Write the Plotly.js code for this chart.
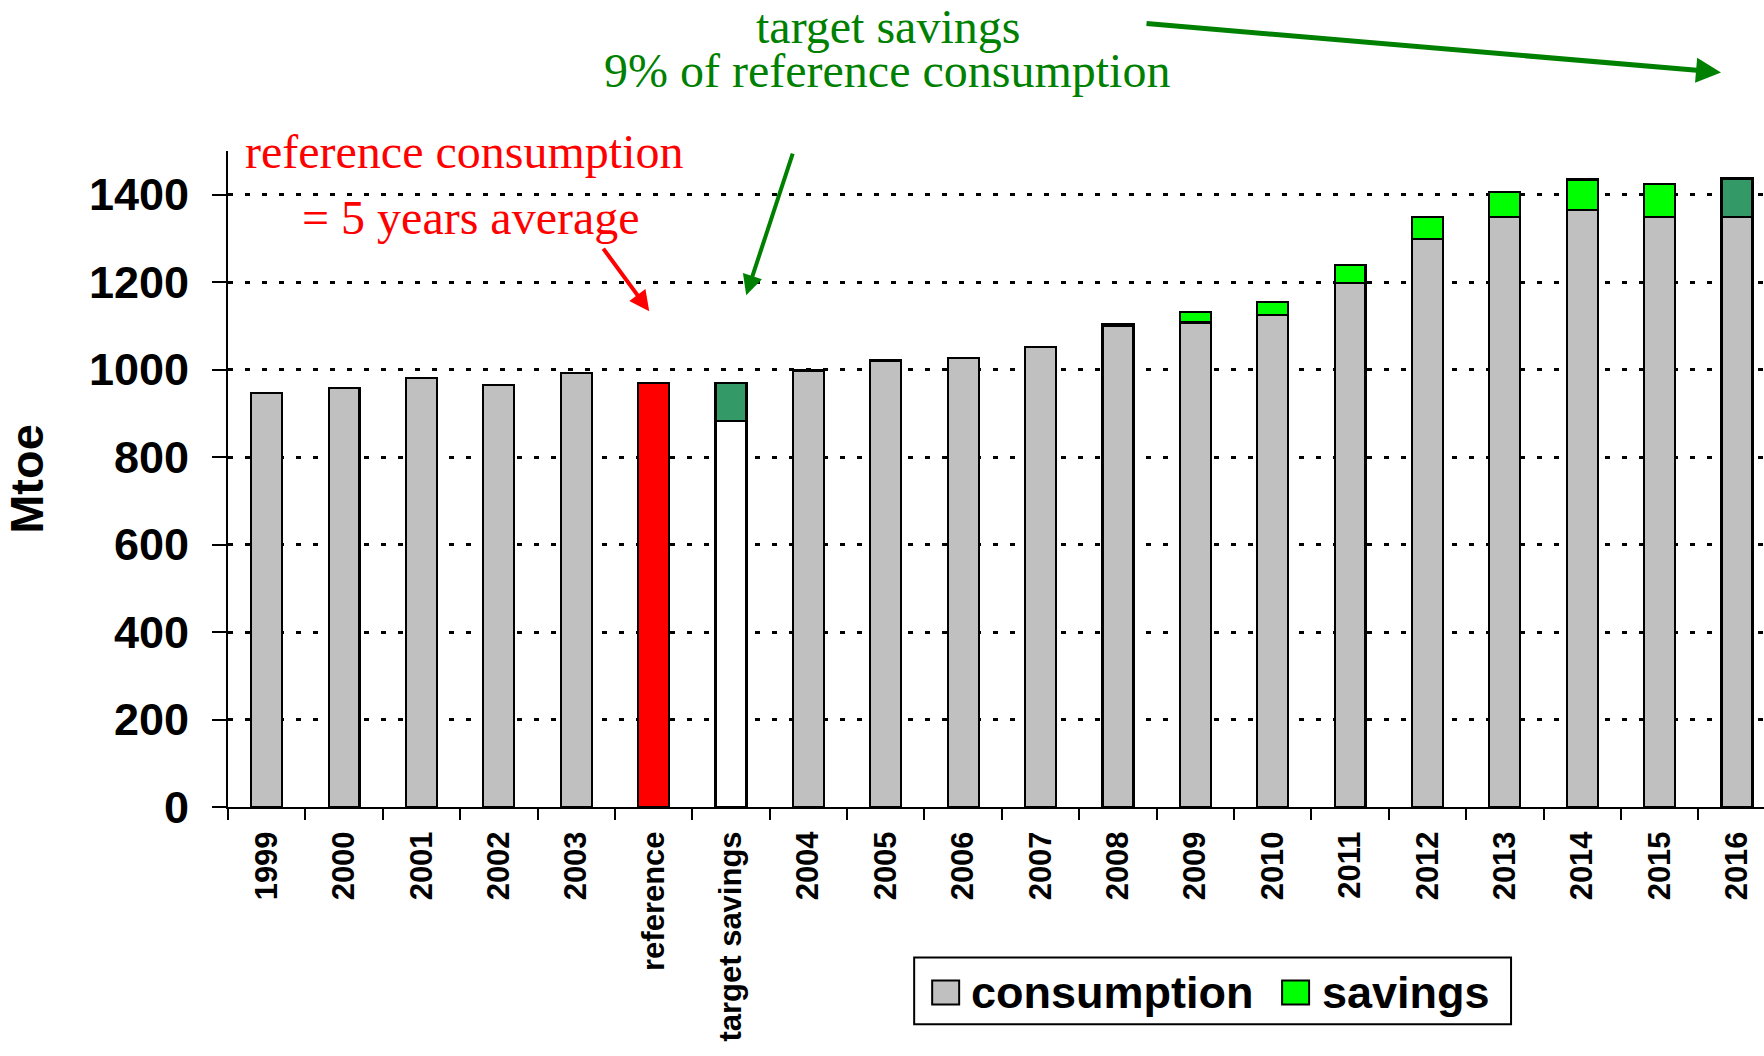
<!DOCTYPE html>
<html>
<head>
<meta charset="utf-8">
<script src="https://cdn.plot.ly/plotly-3.0.1.min.js"></script>
<style>
  html, body { margin: 0; padding: 0; background: #ffffff; }
  #chart { width: 1764px; height: 1056px; }
</style>
</head>
<body>
<div id="chart"></div>
<script>
// ---- data ----
const categories = ['1999', '2000', '2001', '2002', '2003', 'reference', 'target savings',
  '2004', '2005', '2006', '2007', '2008', '2009', '2010', '2011', '2012', '2013', '2014', '2015', '2016'];
const consumption = [947, 959, 981, 965, 992, 969, 882,
  998, 1021, 1027, 1051, 1100, 1108, 1125, 1199, 1298, 1350, 1366, 1350, 1350];
const savings = [null, null, null, null, null, null, 87,
  null, null, null, null, 5, 23, 29, 41, 51, 57, 69, 74, 87];
const seriesNames = ['consumption', 'savings'];
const yTickValues = [0, 200, 400, 600, 800, 1000, 1200, 1400];
const yAxisTitle = 'Mtoe';
const greenNoteLines = ['target savings', '9% of reference consumption'];
const redNoteLines = ['reference consumption', '= 5 years average'];

// ---- styles ----
const GRAY = '#C0C0C0', GREEN = '#00FF00', DARKGREEN = '#339966', RED = '#FF0000', WHITE = '#FFFFFF';
const NOTE_GREEN = '#008000';
const consColors = categories.map(c => c === 'reference' ? RED : (c === 'target savings' ? WHITE : GRAY));
const savColors = categories.map(c => (c === 'target savings' || c === '2016') ? DARKGREEN : GREEN);

// plot-area geometry (pixels) used to place layout decorations
const W = 1764, H = 1056;
const L = 227.7, T = 150.7, B = 248.6;
const PW = W - L, PH = H - T - B;
const px = x => (x - L) / PW;
const py = y => (H - B - y) / PH;

const SANS = 'Liberation Sans, Arial, sans-serif';
const SERIF = 'Liberation Serif, Times New Roman, serif';

const traces = [
  {
    type: 'bar', name: seriesNames[0], x: categories, y: consumption,
    marker: { color: consColors, line: { color: '#000', width: 2.2 } },
    showlegend: false, hoverinfo: 'x+y'
  },
  {
    type: 'bar', name: seriesNames[1], x: categories, y: savings,
    marker: { color: savColors, line: { color: '#000', width: 2.2 } },
    showlegend: false, hoverinfo: 'x+y'
  }
];

const annotations = [
  // green note
  { text: greenNoteLines[0], xref: 'paper', yref: 'paper', x: px(888), y: py(26), xanchor: 'center', yanchor: 'middle',
    showarrow: false, font: { family: SERIF, size: 48, color: NOTE_GREEN } },
  { text: greenNoteLines[1], xref: 'paper', yref: 'paper', x: px(887), y: py(70), xanchor: 'center', yanchor: 'middle',
    showarrow: false, font: { family: SERIF, size: 48, color: NOTE_GREEN } },
  // red note
  { text: redNoteLines[0], xref: 'paper', yref: 'paper', x: px(464), y: py(151), xanchor: 'center', yanchor: 'middle',
    showarrow: false, font: { family: SERIF, size: 48, color: RED } },
  { text: redNoteLines[1], xref: 'paper', yref: 'paper', x: px(471), y: py(217), xanchor: 'center', yanchor: 'middle',
    showarrow: false, font: { family: SERIF, size: 48, color: RED } },
  // arrows
  { text: '', xref: 'paper', yref: 'paper', x: px(649), y: py(311), ax: 602 - 649, ay: 247 - 311,
    showarrow: true, arrowcolor: RED, arrowwidth: 4, arrowhead: 2, arrowsize: 1, standoff: 0 },
  { text: '', xref: 'paper', yref: 'paper', x: px(746), y: py(295), ax: 793 - 746, ay: 152 - 295,
    showarrow: true, arrowcolor: NOTE_GREEN, arrowwidth: 4, arrowhead: 2, arrowsize: 1, standoff: 0 },
  { text: '', xref: 'paper', yref: 'paper', x: px(1721), y: py(72), ax: 1145 - 1721, ay: 23 - 72,
    showarrow: true, arrowcolor: NOTE_GREEN, arrowwidth: 5, arrowhead: 2, arrowsize: 1, standoff: 0 },
  // legend labels
  { text: '<b>' + seriesNames[0] + '</b>', xref: 'paper', yref: 'paper', x: px(969), y: py(993), xanchor: 'left', yanchor: 'middle',
    showarrow: false, font: { family: SANS, size: 45, color: '#000' } },
  { text: '<b>' + seriesNames[1] + '</b>', xref: 'paper', yref: 'paper', x: px(1320), y: py(993), xanchor: 'left', yanchor: 'middle',
    showarrow: false, font: { family: SANS, size: 45, color: '#000' } }
];

const shapes = [
  { type: 'rect', xref: 'paper', yref: 'paper', x0: px(914), x1: px(1511), y0: py(1025), y1: py(958),
    line: { color: '#000', width: 2 }, fillcolor: '#fff' },
  { type: 'rect', xref: 'paper', yref: 'paper', x0: px(932), x1: px(959), y0: py(1005), y1: py(981),
    line: { color: '#000', width: 2 }, fillcolor: GRAY },
  { type: 'rect', xref: 'paper', yref: 'paper', x0: px(1282), x1: px(1309), y0: py(1005), y1: py(981),
    line: { color: '#000', width: 2 }, fillcolor: GREEN }
];

const layout = {
  width: W, height: H,
  margin: { l: L, r: 0, t: T, b: B, pad: 0 },
  paper_bgcolor: '#fff', plot_bgcolor: '#fff',
  barmode: 'stack', bargap: 0.6,
  showlegend: false,
  xaxis: {
    type: 'category', range: [-0.5, -0.5 + PW / 77.4],
    tickson: 'boundaries', ticks: 'outside', ticklen: 11, tickwidth: 2, tickcolor: '#000',
    showline: true, linecolor: '#000', linewidth: 2,
    showgrid: false, zeroline: false,
    tickangle: -90, ticklabelstandoff: 10,
    tickfont: { family: SANS, size: 31, color: '#000', weight: 'bold' },
    automargin: false
  },
  yaxis: {
    range: [0, 1500], tickvals: yTickValues, ticktext: yTickValues.map(String),
    ticks: 'outside', ticklen: 14, tickwidth: 2, tickcolor: '#000',
    showline: true, linecolor: '#000', linewidth: 2,
    showgrid: true, gridcolor: '#000', gridwidth: 3, griddash: '5px,12px',
    zeroline: false, ticklabelstandoff: 14,
    tickfont: { family: SANS, size: 45, color: '#000', weight: 'bold' },
    title: { text: yAxisTitle, standoff: 30, font: { family: SANS, size: 47, color: '#000', weight: 'bold' } },
    automargin: false
  },
  annotations: annotations,
  shapes: shapes
};

Plotly.newPlot('chart', traces, layout, { displayModeBar: false, staticPlot: true });
</script>
</body>
</html>
